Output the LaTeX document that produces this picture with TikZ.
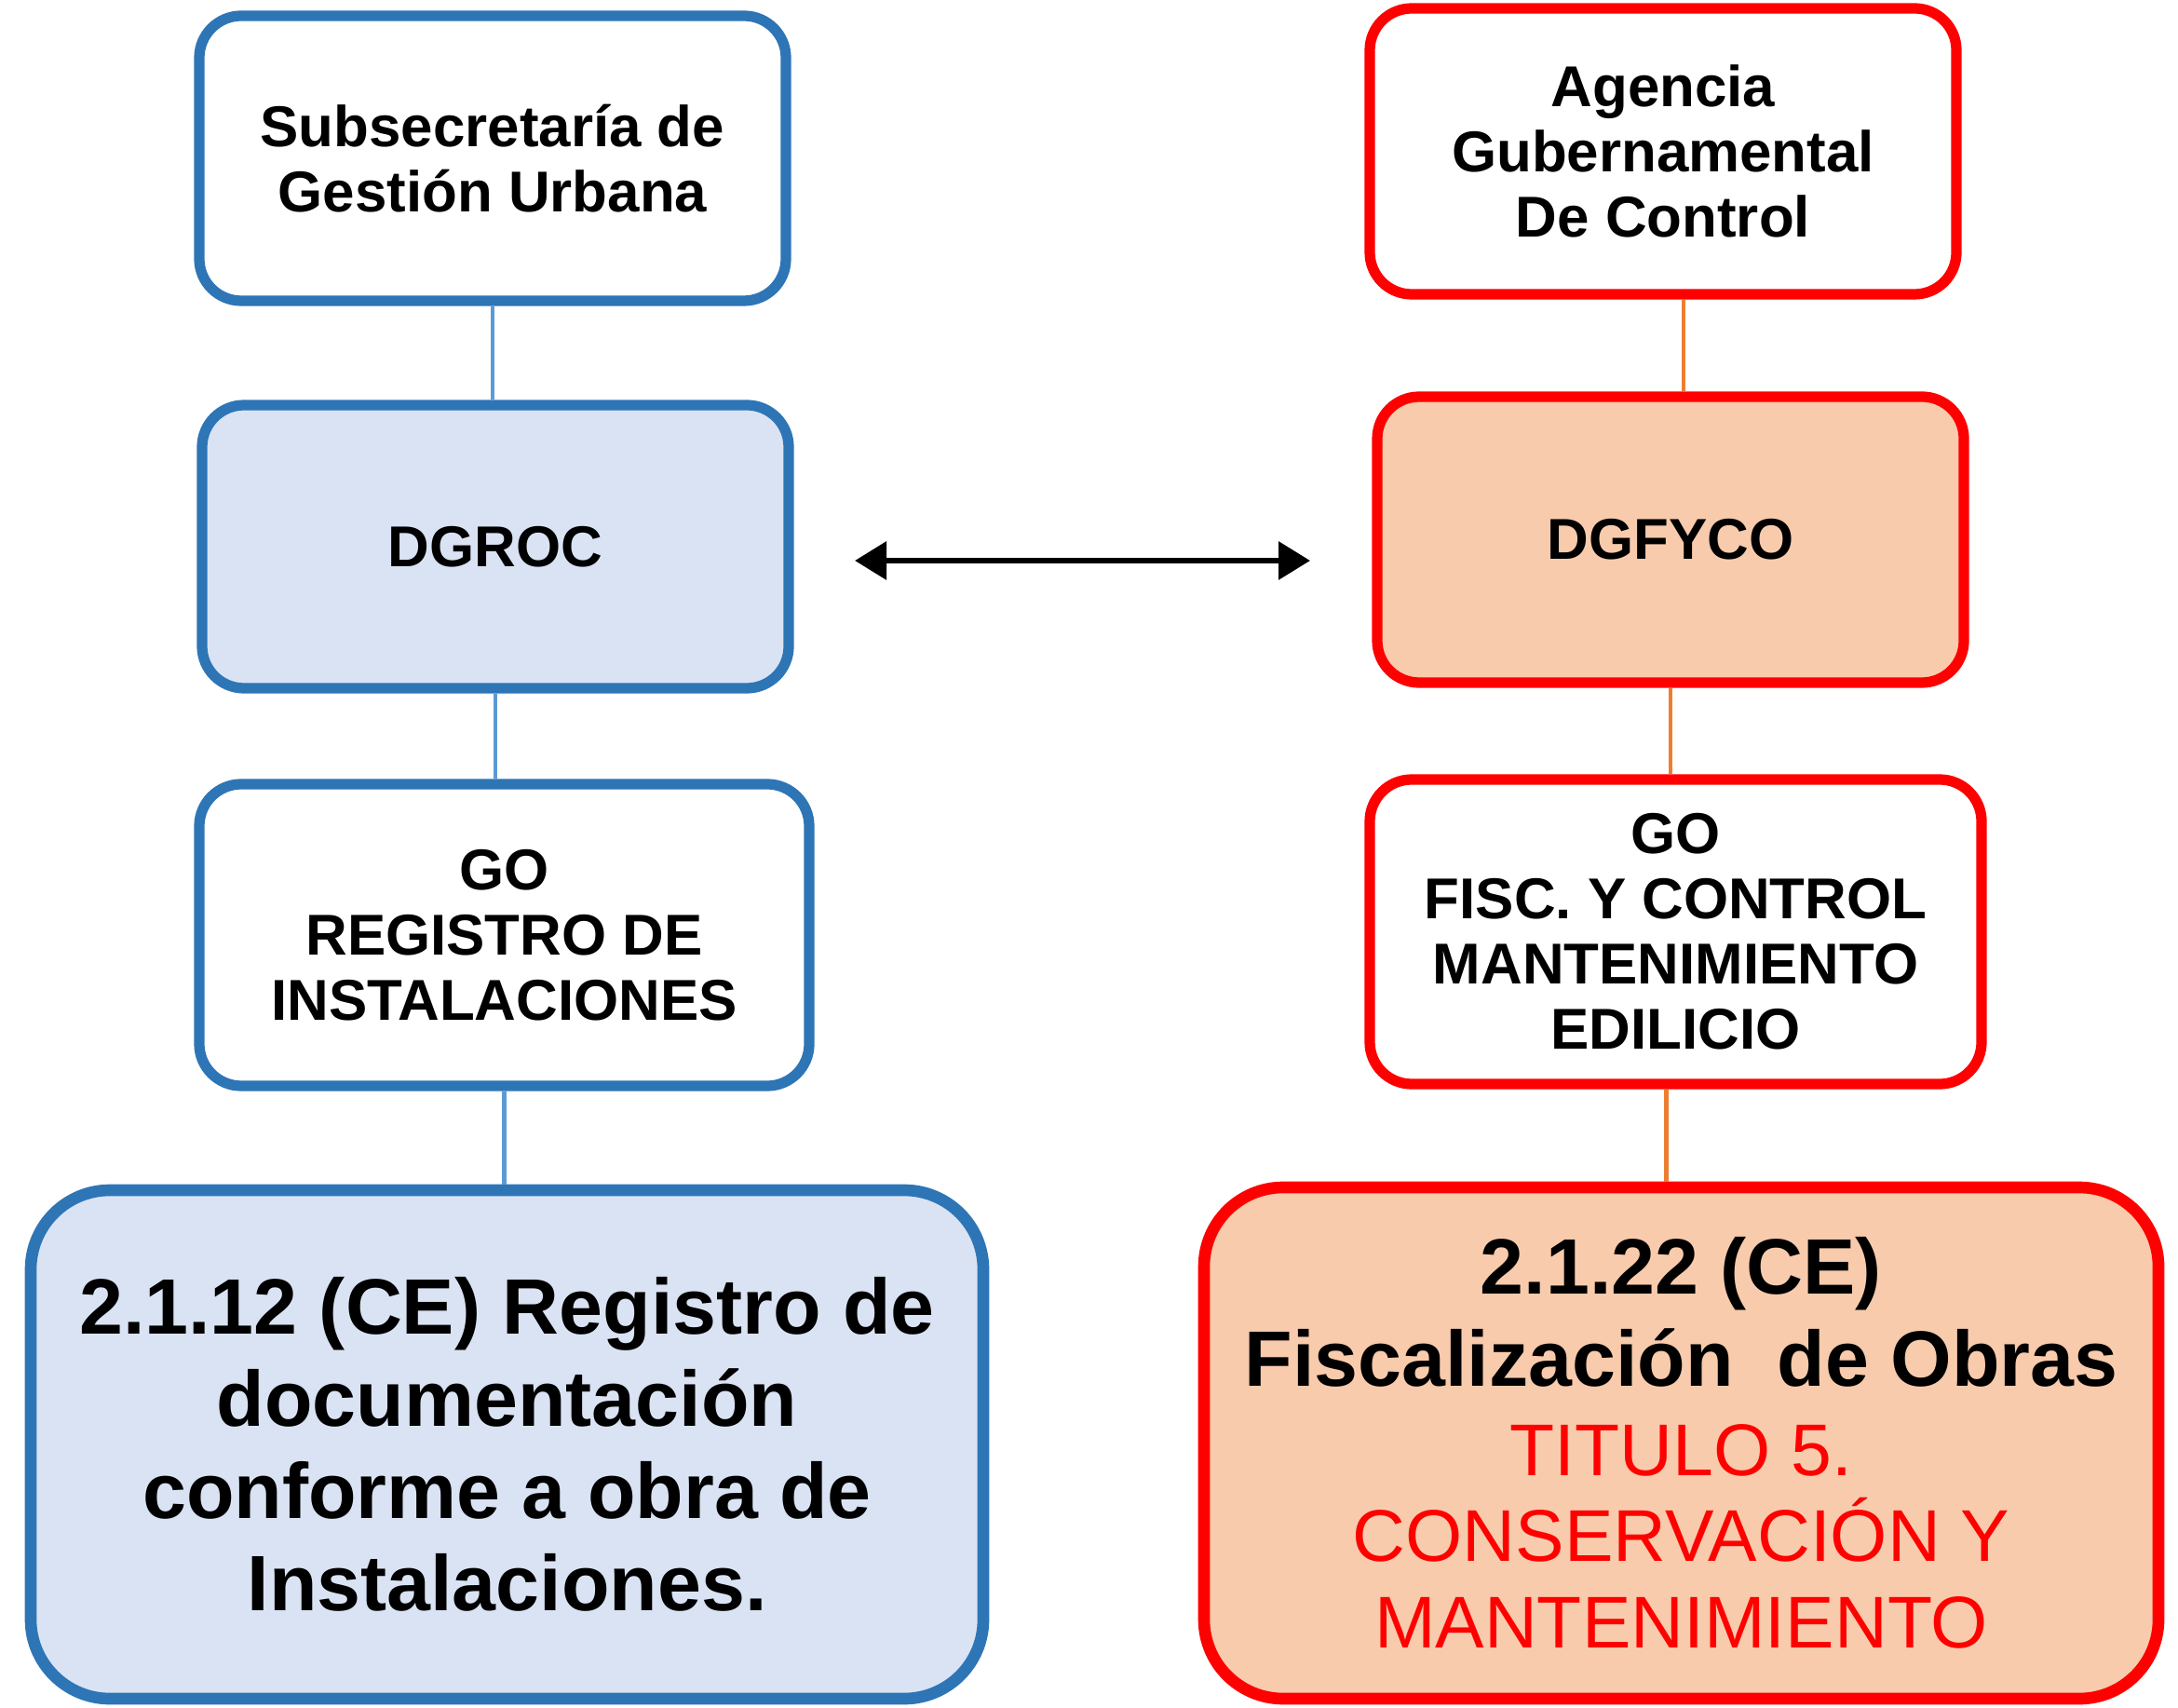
\documentclass[tikz,border=0pt]{standalone}
\usepackage{fontspec}
\setmainfont{Liberation Sans}
\usetikzlibrary{arrows.meta}

\definecolor{bluebrd}{HTML}{2E75B6}
\definecolor{bluefill}{HTML}{DAE3F3}
\definecolor{bluelink}{HTML}{5B9BD5}
\definecolor{redbrd}{HTML}{FF0000}
\definecolor{redfill}{HTML}{F8CBAD}
\definecolor{orglink}{HTML}{ED7D31}

\newcommand{\redtxt}{\color{redbrd}\mdseries\fontsize{22.4}{26.5}\selectfont}

\tikzset{
	unit/.style={draw,rounded corners=4.5mm,line width=3.2pt,align=center,
		font=\bfseries\fontsize{17.6}{19.9}\selectfont},
	bigunit/.style={draw,rounded corners=8.5mm,line width=3.6pt,align=center,
		font=\bfseries\fontsize{24}{28.2}\selectfont},
	bluelink/.style={draw=bluelink,line width=1.3pt},
	orglink/.style={draw=orglink,line width=1.3pt}
}

\begin{document}
\begin{tikzpicture}
	\useasboundingbox (0,0) rectangle (23.39,-18.34);
	
	% left column
	\node[unit,draw=bluebrd,fill=white,minimum width=6.3cm,minimum height=3.06cm] (sgu) at (5.29,-1.70) {Subsecretaría de\\Gestión Urbana};
	\node[unit,draw=bluebrd,fill=bluefill,minimum width=6.3cm,minimum height=3.04cm] (dgroc) at (5.32,-5.87) {DGROC};
	\node[unit,draw=bluebrd,fill=white,minimum width=6.55cm,minimum height=3.24cm] (goreg) at (5.415,-10.04) {GO\\REGISTRO DE\\INSTALACIONES};
	\node[bigunit,draw=bluebrd,fill=bluefill,minimum width=10.23cm,minimum height=5.46cm] (ce212) at (5.445,-15.51) {2.1.12 (CE) Registro de\\documentación\\conforme a obra de\\Instalaciones.};
	
	% right column
	\node[unit,draw=redbrd,fill=white,minimum width=6.3cm,minimum height=3.07cm] (agc) at (17.86,-1.625) {Agencia\\Gubernamental\\De Control};
	\node[unit,draw=redbrd,fill=redfill,minimum width=6.3cm,minimum height=3.07cm] (dgfyco) at (17.94,-5.795) {DGFYCO};
	\node[unit,draw=redbrd,fill=white,minimum width=6.57cm,minimum height=3.27cm] (gofisc) at (17.995,-10.005) {GO\\FISC. Y CONTROL\\MANTENIMIENTO\\EDILICIO};
	\node[bigunit,draw=redbrd,fill=redfill,minimum width=10.25cm,minimum height=5.49cm] (ce222) at (18.055,-15.495) {2.1.22 (CE)\\Fiscalización \ de Obras\\[-1pt]\redtxt TITULO 5.\\[-2pt]\redtxt CONSERVACIÓN Y\\[-1.6pt]\redtxt MANTENIMIENTO};
	
	% links
	\draw[bluelink] (sgu.south) -- (sgu.south |- dgroc.north);
	\draw[bluelink] (dgroc.south) -- (dgroc.south |- goreg.north);
	\draw[bluelink] (goreg.south) -- (goreg.south |- ce212.north);
	\draw[orglink] ([xshift=2.2mm]agc.south) -- ([xshift=2.2mm]agc.south |- dgfyco.north);
	\draw[orglink] (dgfyco.south) -- (dgfyco.south |- gofisc.north);
	\draw[orglink] ([xshift=-1mm]gofisc.south) -- ([xshift=-1mm]gofisc.south |- ce222.north);
	
	\coordinate (arrl) at (9.18,-6.02);
	\coordinate (arrr) at (14.07,-6.02);
	\draw[line width=1.8pt,{Triangle[length=3.4mm,width=4mm]}-{Triangle[length=3.4mm,width=4mm]}] (arrl) -- (arrr);
\end{tikzpicture}
\end{document}
